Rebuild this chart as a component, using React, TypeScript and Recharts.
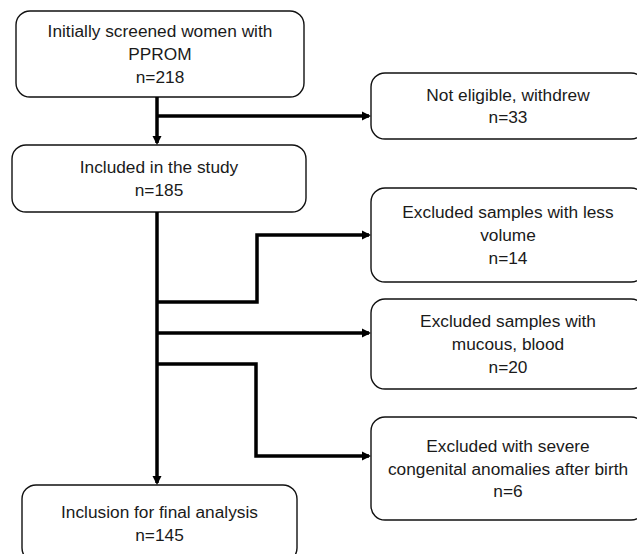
import React from 'react';
import { ComposedChart, XAxis, YAxis, Line, ReferenceArea } from 'recharts';

// flow stages (text + counts)
const stageLabels = [
  ['Initially screened women with', 'PPROM'],
  ['Not eligible, withdrew'],
  ['Included in the study'],
  ['Excluded samples with less', 'volume'],
  ['Excluded samples with', 'mucous, blood'],
  ['Excluded with severe', 'congenital anomalies after birth'],
  ['Inclusion for final analysis'],
];
const stageCounts = [218, 33, 185, 14, 20, 6, 145];

// layout, in canvas units (the hidden axes map 1:1 to pixels)
const boxLayout = [
  { x1: 16, y1: 11, x2: 304, y2: 97 },
  { x1: 371, y1: 73, x2: 645, y2: 139 },
  { x1: 12, y1: 145, x2: 306, y2: 212 },
  { x1: 371, y1: 188, x2: 645, y2: 282 },
  { x1: 371, y1: 299, x2: 645, y2: 389 },
  { x1: 371, y1: 417, x2: 645, y2: 520 },
  { x1: 22, y1: 485, x2: 297, y2: 562 },
];

const connectors = [
  [{ x: 157, y: 97 }, { x: 157, y: 143 }],
  [{ x: 157, y: 116 }, { x: 369, y: 116 }],
  [{ x: 157, y: 212 }, { x: 157, y: 483 }],
  [{ x: 157, y: 302 }, { x: 257, y: 302 }, { x: 257, y: 235 }, { x: 369, y: 235 }],
  [{ x: 157, y: 333 }, { x: 369, y: 333 }],
  [{ x: 157, y: 364 }, { x: 256, y: 364 }, { x: 256, y: 456 }, { x: 369, y: 456 }],
];

const W = 637;
const H = 554;
const FONT = '"Liberation Sans", Arial, Helvetica, sans-serif';
const FS = 17.3;
const LH = 22.8;

const BoxShape = (p: any, idx: number) => {
  const lines = [...stageLabels[idx], `n=${stageCounts[idx]}`];
  const cx = p.x + p.width / 2;
  const cy = p.y + p.height / 2;
  return (
    <g>
      <rect x={p.x} y={p.y} width={p.width} height={p.height} rx={14} ry={14}
        fill="none" stroke="#111" strokeWidth={1.4} />
      <text x={cx} textAnchor="middle" fontFamily={FONT} fontSize={FS} fill="#1a1a1a">
        {lines.map((t, i) => (
          <tspan key={i} x={cx} y={cy + (i - (lines.length - 1) / 2) * LH + FS * 0.35}>{t}</tspan>
        ))}
      </text>
    </g>
  );
};

const arrowDot = (p: any, pts: { x: number; y: number }[]) => {
  const key = `d-${p.index}`;
  if (p.index !== pts.length - 1) return <g key={key} />;
  const prev = pts[p.index - 1];
  const cur = pts[p.index];
  const dx = Math.sign(cur.x - prev.x);
  const dy = Math.sign(cur.y - prev.y); // y axis is reversed, so + is downward
  const len = 9;
  const hw = 4.5;
  const tx = p.cx + dx * 2;
  const ty = p.cy + dy * 2;
  const bx = tx - dx * len;
  const by = ty - dy * len;
  const d = `M${tx},${ty} L${bx - dy * hw},${by + dx * hw} L${bx + dy * hw},${by - dx * hw} Z`;
  return <path key={key} d={d} fill="#000" stroke="none" />;
};

const App: React.FC = () => {
  return (
    <div style={{ position: 'absolute', left: 0, top: 0, width: W, height: H, background: '#fff' }}>
      <ComposedChart width={W} height={H} margin={{ top: 0, right: 0, bottom: 0, left: 0 }}>
        <XAxis type="number" dataKey="x" domain={[0, W]} hide allowDataOverflow />
        <YAxis type="number" dataKey="y" domain={[0, H]} reversed hide allowDataOverflow />
        {boxLayout.map((b, i) => (
          <ReferenceArea key={`box-${i}`} x1={b.x1} x2={b.x2} y1={b.y1} y2={b.y2}
            ifOverflow="visible" shape={(p: any) => BoxShape(p, i)} />
        ))}
        {connectors.map((pts, i) => (
          <Line key={`c-${i}`} data={pts} dataKey="y" type="linear" stroke="#000"
            strokeWidth={3.5} strokeLinejoin="miter" strokeLinecap="butt"
            dot={(p: any) => arrowDot(p, pts)} activeDot={false}
            isAnimationActive={false} legendType="none" />
        ))}
      </ComposedChart>
    </div>
  );
};

export default App;
